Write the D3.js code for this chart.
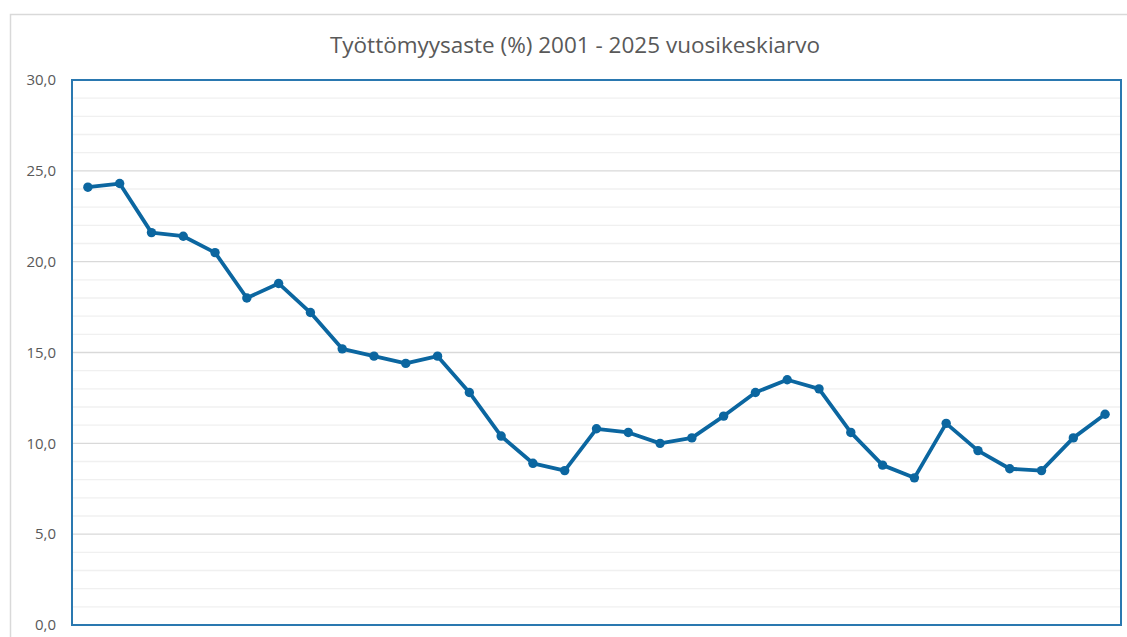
<!DOCTYPE html>
<html>
<head>
<meta charset="utf-8">
<script src="https://cdn.jsdelivr.net/npm/d3@7"></script>
<style>
  html, body { margin: 0; padding: 0; background: #fff; }
  svg { display: block; }
</style>
</head>
<body>
<svg id="chart" width="1127" height="637"></svg>
<script>
const title = "Työttömyysaste (%) 2001 - 2025 vuosikeskiarvo";
const years = [1993,1994,1995,1996,1997,1998,1999,2000,2001,2002,2003,2004,2005,2006,2007,2008,2009,2010,2011,2012,2013,2014,2015,2016,2017,2018,2019,2020,2021,2022,2023,2024,2025];
const rate = [24.1,24.3,21.6,21.4,20.5,18.0,18.8,17.2,15.2,14.8,14.4,14.8,12.8,10.4,8.9,8.5,10.8,10.6,10.0,10.3,11.5,12.8,13.5,13.0,10.6,8.8,8.1,11.1,9.6,8.6,8.5,10.3,11.6];
const yTicks = [0,5,10,15,20,25,30];
const yMinor = d3.range(0, 31, 1);

const svg = d3.select("#chart");
const W = 1127, H = 637;
const plot = { left: 72, right: 1121, top: 80, bottom: 625 };

// outer chart border
svg.append("rect")
  .attr("x", 10.5).attr("y", 14.5)
  .attr("width", W + 20).attr("height", H + 20)
  .attr("fill", "#fff").attr("stroke", "#d9d9d9").attr("stroke-width", 1.5);

const x = d3.scalePoint().domain(years).range([plot.left, plot.right]).padding(0.5);
const y = d3.scaleLinear().domain([0, 30]).range([plot.bottom, plot.top]);

// minor gridlines
svg.append("g").selectAll("line").data(yMinor.filter(v => v % 5 !== 0)).join("line")
  .attr("x1", plot.left).attr("x2", plot.right)
  .attr("y1", d => y(d)).attr("y2", d => y(d))
  .attr("stroke", "#f0f0f0").attr("stroke-width", 1.3);

// major gridlines
svg.append("g").selectAll("line").data(yTicks).join("line")
  .attr("x1", plot.left).attr("x2", plot.right)
  .attr("y1", d => y(d)).attr("y2", d => y(d))
  .attr("stroke", "#d9d9d9").attr("stroke-width", 1.3);

// y axis labels
const fmt = v => v.toFixed(1).replace(".", ",");
const yAxis = d3.axisLeft(y).tickValues(yTicks).tickFormat(fmt).tickSize(0).tickPadding(16);
const yg = svg.append("g").attr("transform", `translate(${plot.left},0)`).call(yAxis);
yg.select(".domain").remove();
yg.selectAll("text")
  .attr("font-family", "'Open Sans', 'Noto Sans', sans-serif")
  .attr("font-size", 15).attr("fill", "#595959");

// plot area border
svg.append("rect")
  .attr("x", plot.left).attr("y", plot.top)
  .attr("width", plot.right - plot.left).attr("height", plot.bottom - plot.top)
  .attr("fill", "none").attr("stroke", "#2a78b0").attr("stroke-width", 2);

// line
const color = "#0b66a0";
const line = d3.line().x((d, i) => x(years[i])).y(d => y(d));
svg.append("path").datum(rate)
  .attr("d", line).attr("fill", "none")
  .attr("stroke", color).attr("stroke-width", 3.8)
  .attr("stroke-linejoin", "round").attr("stroke-linecap", "round");

svg.append("g").selectAll("circle").data(rate).join("circle")
  .attr("cx", (d, i) => x(years[i])).attr("cy", d => y(d))
  .attr("r", 4.7).attr("fill", color);

// title
svg.append("text")
  .attr("x", 575).attr("y", 53)
  .attr("text-anchor", "middle")
  .attr("font-family", "'Open Sans', 'Noto Sans', sans-serif")
  .attr("font-size", 22.5).attr("fill", "#595959")
  .text(title);
</script>
</body>
</html>
